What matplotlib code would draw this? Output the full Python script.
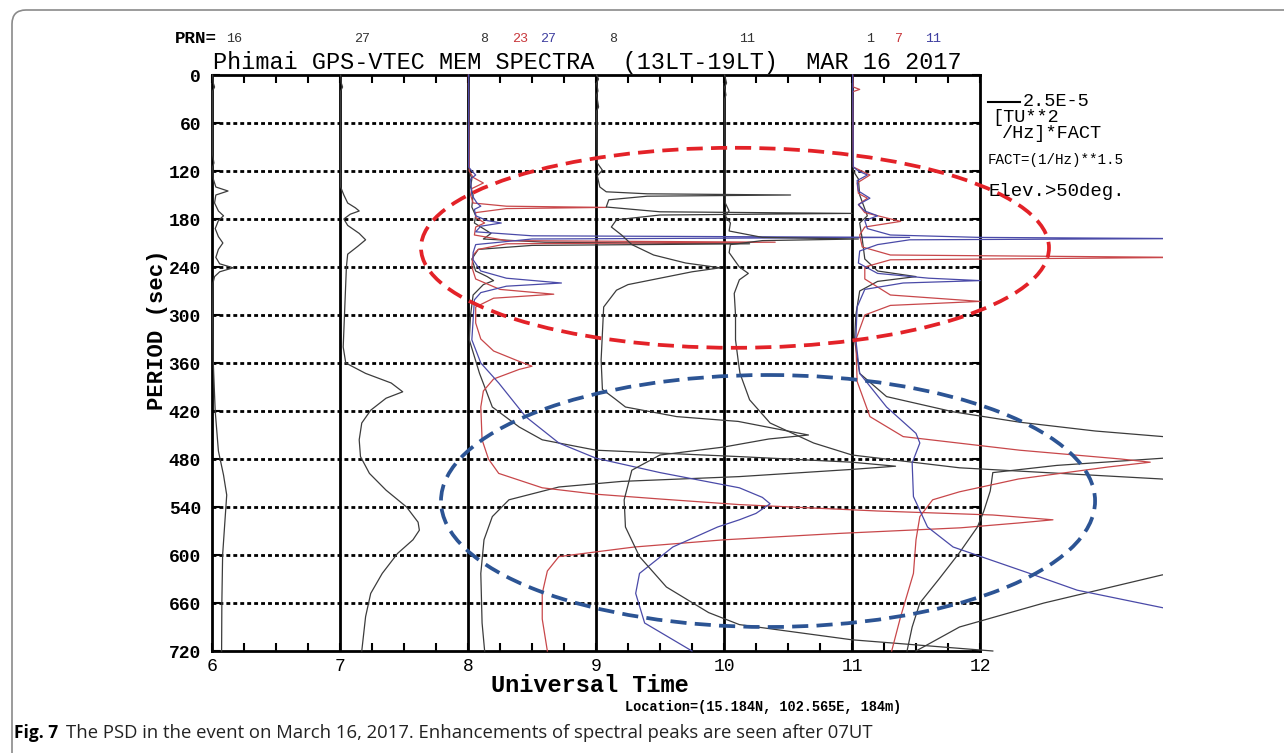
import matplotlib
matplotlib.use("Agg")
import matplotlib.pyplot as plt
from matplotlib.patches import Ellipse, Rectangle, FancyBboxPatch
from matplotlib.transforms import IdentityTransform
from matplotlib.ticker import MultipleLocator
import numpy as np

# ---------------- data (PSD in units of 1E-5 [TU**2/Hz]*FACT) ----------------
HOURS = [6, 7, 8, 9, 10, 11]
PERIOD_TICKS = list(range(0, 721, 60))
PERIOD_LABELS = [str(v) for v in PERIOD_TICKS]
HOUR_LABELS = [str(h) for h in HOURS] + ["12"]

# UT 06 - PRN 16
P06_16 = [0, 10, 15, 20, 100, 110, 115, 130, 140, 145, 150, 160, 170, 176, 182, 192, 202, 210, 218, 228,
          236, 241, 246, 252, 260, 300, 360, 420, 470, 500, 525, 560, 600, 660, 720]
S06_16 = [0.05, 0.1, 0.2, 0.05, 0.05, 0.15, 0.05, 0.1, 0.3, 1.25, 0.3, 0.2, 0.5, 0.9, 0.5, 0.25, 0.5, 0.85, 0.5, 0.3,
          0.6, 1.65, 0.6, 0.2, 0.08, 0.05, 0.1, 0.25, 0.5, 0.9, 1.15, 1.0, 0.83, 0.77, 0.75]

# UT 07 - PRN 27
P07_27 = [0, 10, 15, 20, 140, 150, 160, 166, 170, 174, 180, 188, 198, 206, 214, 224, 240, 300, 340, 360,
          373, 385, 396, 404, 419, 435, 456, 477, 498, 519, 540, 559, 569, 581, 598, 623, 648, 677, 720]
S07_27 = [0.05, 0.1, 0.2, 0.05, 0.05, 0.3, 0.6, 1.2, 1.5, 0.8, 0.3, 0.6, 1.5, 2.0, 1.4, 0.6, 0.5, 0.35, 0.25, 0.45,
          2.0, 4.0, 4.9, 3.6, 2.4, 1.7, 1.5, 1.6, 2.3, 3.6, 5.2, 6.1, 6.2, 5.7, 4.5, 3.3, 2.4, 2.0, 1.7]

# UT 08 - PRN 8 / 23 / 27
P08_08 = [0, 120, 130, 140, 150, 165, 176, 185, 192, 198, 205, 209, 211, 213, 218, 230, 245, 252, 257, 262,
          275, 300, 331, 373, 415, 440, 456, 469, 477, 484, 489, 493, 502, 508, 515, 531, 552, 581, 623, 685, 720]
S08_08 = [0.05, 0.1, 0.3, 0.2, 0.4, 0.3, 0.6, 0.5, 1.2, 1.8, 1.2, 6.0, 22.0, 5.0, 0.8, 0.3, 0.6, 1.5, 2.0, 1.2,
          0.4, 0.2, 0.1, 0.9, 1.9, 4.0, 5.8, 10.0, 21.2, 30.0, 33.4, 30.0, 21.2, 12.0, 7.1, 3.2, 1.9, 1.25, 1.0, 1.1, 1.3]

P08_23 = [0, 120, 128, 135, 142, 150, 160, 164, 165.5, 167, 172, 178, 185, 190, 200, 207, 209, 211, 218, 225,
          240, 255, 268, 274, 279, 290, 310, 330, 345, 358, 364, 368, 380, 395, 415, 456, 480, 498, 516, 524,
          530, 537, 545, 550, 556, 560, 566, 573, 581, 590, 602, 620, 648, 680, 720]
S08_23 = [0.03, 0.1, 0.4, 1.2, 0.3, 0.2, 0.4, 3.0, 10.8, 3.0, 0.6, 0.6, 1.3, 0.6, 0.5, 3.0, 24.0, 3.0, 0.8, 0.4,
          0.3, 0.6, 2.5, 6.7, 2.0, 0.6, 0.6, 1.0, 2.0, 4.0, 5.0, 4.0, 2.0, 1.2, 1.0, 1.1, 1.6, 2.4, 5.8, 10.0,
          15.0, 21.2, 32.0, 41.0, 45.7, 43.0, 38.5, 29.0, 20.0, 13.0, 7.1, 6.2, 5.8, 5.8, 6.2]

P08_27 = [0, 115, 120, 125, 130, 150, 160, 164, 168, 176, 182, 185, 189, 196, 201, 203, 205, 212, 222, 231,
          245, 254, 260, 264, 272, 281, 331, 360, 385, 427, 460, 479, 497, 516, 528, 536, 548, 556, 565, 590,
          623, 648, 685, 720]
S08_27 = [0.05, 0.05, 0.3, 0.6, 0.2, 0.3, 0.7, 1.0, 0.5, 0.6, 1.5, 2.6, 1.0, 0.6, 5.0, 34.5, 5.0, 0.6, 0.4, 0.4,
          1.0, 3.0, 7.3, 3.0, 1.0, 0.5, 0.3, 1.0, 2.4, 4.5, 7.1, 10.0, 15.0, 21.2, 23.0, 23.6, 22.5, 21.2, 19.5, 16.0,
          13.4, 13.1, 13.8, 17.5]

# UT 09 - PRN 8
P09_08 = [0, 5, 10, 20, 25, 40, 45, 110, 119, 126, 140, 146, 148.5, 150, 151.5, 156, 165, 171, 173, 175,
          181, 190, 200, 212, 225, 235, 241, 246, 254, 262, 269, 290, 356, 393, 405, 415, 427, 433, 442, 450,
          455, 465, 475, 494, 531, 565, 602, 640, 672, 687, 706, 720]
S09_08 = [0.05, 0.2, 0.05, 0.15, 0.05, 0.2, 0.05, 0.1, 0.5, 0.1, 0.3, 0.8, 4.0, 15.2, 4.0, 1.0, 0.8, 5.0, 20.0, 5.0,
          1.6, 1.2, 2.0, 2.8, 4.5, 7.0, 9.7, 7.5, 5.0, 2.5, 1.6, 0.6, 0.4, 0.5, 1.5, 2.3, 6.3, 11.1, 14.0, 16.6,
          13.5, 10.0, 5.0, 2.8, 2.2, 2.3, 3.4, 5.5, 8.8, 11.2, 20.0, 31.0]

# UT 10 - PRN 11
P10_11 = [0, 10, 15, 25, 30, 160, 170, 176, 185, 195, 203, 205, 207, 212, 222, 240, 248, 256, 273, 300,
          331, 356, 373, 406, 435, 460, 475, 491, 505, 530, 560, 590, 625, 660, 690, 720]
S10_11 = [0.05, 0.2, 0.05, 0.15, 0.05, 0.1, 0.4, 0.1, 0.5, 0.4, 3.0, 10.5, 3.0, 0.5, 0.4, 1.2, 1.9, 1.2, 0.8, 0.9,
          0.9, 1.1, 1.25, 2.0, 3.6, 7.0, 10.0, 18.4, 34.2, 48.0, 53.0, 48.0, 34.2, 25.0, 18.4, 15.0]

# UT 11 - PRN 1 / 7 / 11
P11_01 = [0, 120, 130, 150, 176, 185, 205, 230, 245, 252, 258, 270, 300, 331, 373, 402, 421, 434, 445, 452,
          460, 466, 472, 479, 488, 497, 520, 545, 565, 597, 630, 660, 690, 720]
S11_01 = [0.05, 0.1, 0.5, 0.6, 1.2, 0.6, 0.8, 1.0, 2.0, 5.0, 2.0, 0.6, 0.3, 0.2, 0.6, 2.7, 7.9, 13.1, 19.0, 24.3,
          32.0, 35.0, 30.0, 24.3, 16.0, 11.0, 10.8, 10.3, 9.8, 8.4, 6.8, 5.3, 4.7, 4.3]

P11_07 = [0, 15, 18, 21, 115, 125, 135, 148, 154, 162, 172, 183, 190, 200, 215, 225, 228, 231, 240, 255,
          275, 283, 288, 300, 331, 383, 427, 452, 469, 480, 484, 490, 505, 521, 531, 552, 581, 623, 677, 720]
S11_07 = [0.05, 0.1, 0.6, 0.05, 0.1, 1.4, 0.4, 0.5, 1.2, 0.5, 1.0, 3.8, 1.0, 0.6, 0.8, 3.0, 26.0, 3.0, 1.0, 1.0,
          3.0, 10.0, 3.0, 1.0, 0.3, 0.4, 1.4, 4.0, 13.1, 21.0, 23.3, 20.0, 13.0, 8.4, 6.3, 5.3, 5.0, 4.8, 3.8, 3.1]

P11_11 = [0, 115, 120, 125, 132, 145, 154, 162, 170, 176, 182, 192, 200, 203, 204.5, 206, 212, 220, 235, 248,
          254, 257, 260, 268, 290, 331, 373, 415, 448, 460, 485, 527, 565, 590, 622, 644, 666, 690, 720]
S11_11 = [0.05, 0.1, 0.5, 1.2, 0.4, 0.5, 1.4, 0.5, 1.0, 2.0, 1.0, 1.2, 3.0, 10.0, 26.0, 4.5, 2.0, 0.6, 0.5, 2.0,
          6.0, 10.0, 4.0, 1.0, 0.4, 0.3, 0.6, 2.7, 5.0, 5.3, 4.7, 4.8, 5.9, 7.9, 13.7, 17.6, 24.3, 32.0, 40.0]

PRN_TOP = [(6, "16", "k"), (7, "27", "k"), (8, "8", "k"), (8, "23", "r"), (8, "27", "b"),
           (9, "8", "k"), (10, "11", "k"), (11, "1", "k"), (11, "7", "r"), (11, "11", "b")]

# ---------------- style ----------------
W, H = 1284, 753
MONO = "Liberation Mono"
C_K, C_R, C_B = "#3c3c3c", "#c8474a", "#4a4aa8"
COL = {"k": C_K, "r": C_R, "b": C_B}
SCALE = 0.1          # hours of x-axis per 1E-5 PSD unit (2.5E-5 bar = 0.25 h)
CLIP_X = 13.43       # right edge of the original figure image (data units)

fig = plt.figure(figsize=(W / 100, H / 100), dpi=100)
ax = fig.add_axes([212 / W, 1 - 651 / H, 768 / W, 576 / H])
ax.set_xlim(6, 12)
ax.set_ylim(720, 0)


def px(x, y):
    return x / W, 1 - y / H


# frame around the whole figure (journal box)
box = FancyBboxPatch((12, -30), 1400, 753 - 10 + 30, boxstyle="round,pad=0,rounding_size=14",
                     transform=IdentityTransform(), fill=False, ec="#8a8a8a", lw=1.2)
fig.add_artist(box)

# grid: dotted period lines and solid hour lines
ax.hlines(PERIOD_TICKS[1:-1], 6, 12, colors="k", linestyles=(0, (1.4, 1.1)), lw=2.0, zorder=1)
ax.vlines(HOURS[1:], 0, 720, colors="k", lw=2.0, zorder=2)
for s in ax.spines.values():
    s.set_linewidth(2.0)

# spectra
clip_rect = Rectangle((5.5, -50), CLIP_X - 5.5, 830, transform=ax.transData)
curves = [(6, P06_16, S06_16, "k"), (7, P07_27, S07_27, "k"),
          (8, P08_08, S08_08, "k"), (8, P08_23, S08_23, "r"), (8, P08_27, S08_27, "b"),
          (9, P09_08, S09_08, "k"), (10, P10_11, S10_11, "k"),
          (11, P11_01, S11_01, "k"), (11, P11_07, S11_07, "r"), (11, P11_11, S11_11, "b")]
for hr, per, psd, c in curves:
    ln, = ax.plot(hr + np.asarray(psd) * SCALE, per, color=COL[c], lw=0.9, zorder=3)
    ln.set_clip_path(clip_rect)

# highlight ellipses
ax.add_patch(Ellipse((10.086, 216), 4.906, 250, fill=False, ec="#e32228", lw=2.7,
                     ls=(0, (4.3, 2.2)), clip_on=False, zorder=10))
ax.add_patch(Ellipse((10.344, 532.5), 5.11, 315, fill=False, ec="#2c5494", lw=2.7,
                     ls=(0, (4.3, 2.2)), clip_on=False, zorder=10))

# ticks
ax.set_xticks(HOURS + [12])
ax.set_xticklabels(HOUR_LABELS, fontfamily=MONO, fontsize=13)
ax.xaxis.set_minor_locator(MultipleLocator(0.25))
ax.tick_params(axis="x", which="both", direction="in", top=True, bottom=True, length=6, width=1.5, pad=5)
ax.set_yticks(PERIOD_TICKS)
ax.set_yticklabels(PERIOD_LABELS, fontfamily=MONO, fontsize=13, fontweight="bold")
ax.tick_params(axis="y", which="major", direction="in", left=True, right=True, length=6, width=1.5, pad=8)

# titles & labels
fig.text(*px(213, 69), "Phimai GPS-VTEC MEM SPECTRA  (13LT-19LT)  MAR 16 2017",
         fontfamily=MONO, fontsize=16.9, ha="left", va="baseline")
fig.text(*px(175, 43), "PRN=", fontfamily=MONO, fontsize=12.6, fontweight="bold", ha="left", va="baseline")
prn_x = {(6, "16"): 226, (7, "27"): 354, (8, "8"): 480, (8, "23"): 512, (8, "27"): 540,
         (9, "8"): 609, (10, "11"): 739, (11, "1"): 866, (11, "7"): 895, (11, "11"): 925}
for hr, lab, c in PRN_TOP:
    fig.text(*px(prn_x[(hr, lab)], 42), lab, fontfamily=MONO, fontsize=9.6,
             color={"k": "#333333", "r": "#c8373b", "b": "#3f3fa0"}[c], ha="left", va="baseline")

fig.text(*px(590, 685), "Universal Time", fontfamily=MONO, fontsize=17, fontweight="bold",
         ha="center", va="center")
fig.text(*px(157, 330), "PERIOD (sec)", fontfamily=MONO, fontsize=16, fontweight="bold",
         rotation=90, ha="center", va="center")
fig.text(*px(625, 707), "Location=(15.184N, 102.565E, 184m)", fontfamily=MONO, fontsize=9.8,
         fontweight="bold", ha="left", va="center")

# scale bar / annotations on the right
ybar = 34
ax.plot([12.0625, 12.0625 + 2.5 * SCALE], [ybar, ybar], color="k", lw=1.5, clip_on=False)
fig.text(*px(1023, 102), "2.5E-5", fontfamily=MONO, fontsize=13.4, ha="left", va="center")
fig.text(*px(992, 117), "[TU**2", fontfamily=MONO, fontsize=13.4, ha="left", va="center")
fig.text(*px(1002, 133), "/Hz]*FACT", fontfamily=MONO, fontsize=13.4, ha="left", va="center")
fig.text(*px(988, 160), "FACT=(1/Hz)**1.5", fontfamily=MONO, fontsize=10.3, ha="left", va="center")
fig.text(*px(988, 192), "Elev.>50deg.", fontfamily=MONO, fontsize=13.7, ha="left", va="center")

# caption
fig.text(*px(14, 733), "Fig. 7", fontfamily="Open Sans", fontsize=12.5, fontweight="bold",
         ha="left", va="center")
cap = fig.text(*px(66, 733), "The PSD in the event on March 16, 2017. Enhancements of spectral peaks are seen after 07UT",
               fontfamily="Open Sans", fontsize=12, ha="left", va="center", color="#222222")
r = fig.canvas.get_renderer()
wcap = cap.get_window_extent(r).width
cap.set_fontsize(12 * (868 - 66) / wcap)

fig.savefig("out.png", dpi=100)
